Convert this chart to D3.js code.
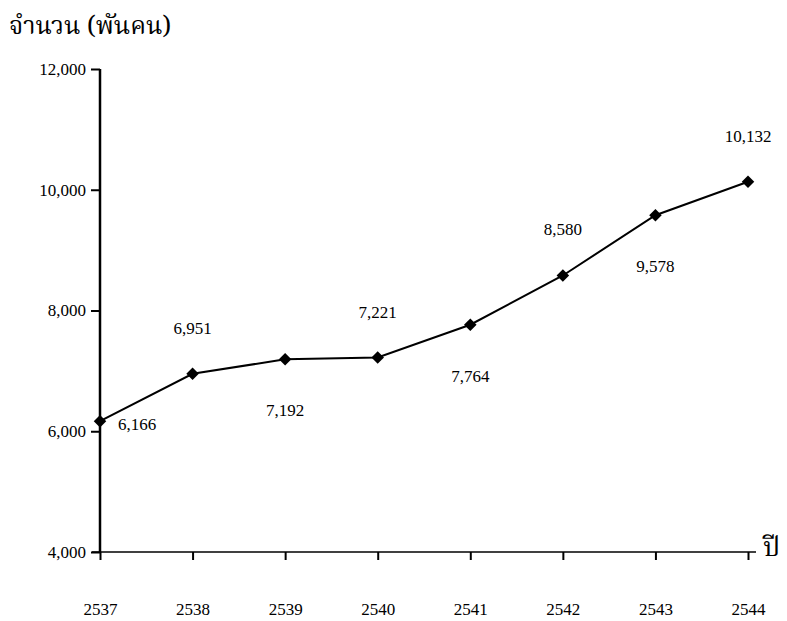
<!DOCTYPE html>
<html><head><meta charset="utf-8">
<script src="https://cdn.jsdelivr.net/npm/d3@7"></script>
<style>
body{margin:0;background:#fff;}
svg text{font-family:"Liberation Serif","Times New Roman",serif;fill:#000;}
</style></head>
<body><svg id="c" width="787" height="621"></svg>
<script>
const years = [2537,2538,2539,2540,2541,2542,2543,2544];
const values = [6166,6951,7192,7221,7764,8580,9578,10132];
const labelPos = ["right","above","below","above","below","above","below","above"];
const yTicks = [4000,6000,8000,10000,12000];

const svg = d3.select("#c");
const x = d3.scalePoint().domain(years).range([100,748]);
const y = d3.scaleLinear().domain([4000,12000]).range([552,69]);
const fmt = d3.format(",");
const serif = "'Liberation Serif','Times New Roman',serif";

// y axis
const ya = svg.append("g").attr("transform","translate(100,0)")
  .call(d3.axisLeft(y).tickValues(yTicks).tickFormat(fmt).tickSize(9).tickPadding(5));
ya.attr("font-family",serif);
ya.select(".domain").attr("stroke","#000").attr("stroke-width",2.5).attr("d","M0,69V552");
ya.selectAll(".tick line").attr("stroke","#000").attr("stroke-width",2);
ya.selectAll(".tick text").style("font-size","17px").style("font-family",serif);

// x axis
const xa = svg.append("g").attr("transform","translate(0,552)")
  .call(d3.axisBottom(x).tickSize(8).tickPadding(43));
xa.attr("font-family",serif);
xa.select(".domain").attr("stroke","#000").attr("stroke-width",1.5).attr("d","M92,0H756");
xa.selectAll(".tick line").attr("stroke","#000").attr("stroke-width",2);
xa.selectAll(".tick text").style("font-size","17px").style("font-family",serif);

// line
const line = d3.line().x((d,i)=>x(years[i])).y(d=>y(d));
svg.append("path").datum(values).attr("d",line)
  .attr("fill","none").attr("stroke","#000").attr("stroke-width",2);

// markers
svg.selectAll(".m").data(values).enter().append("path")
  .attr("d",d3.symbol(d3.symbolDiamond2 || d3.symbolDiamond).size(100))
  .attr("transform",(d,i)=>`translate(${x(years[i])},${y(d)})`)
  .attr("fill","#000");

// labels
svg.selectAll(".lbl").data(values).enter().append("text")
  .attr("x",(d,i)=> labelPos[i]==="right" ? x(years[i])+18 : x(years[i]))
  .attr("y",(d,i)=> y(d) + (labelPos[i]==="above" ? -40 : labelPos[i]==="below" ? 57 : 9))
  .attr("text-anchor",(d,i)=> labelPos[i]==="right" ? "start" : "middle")
  .style("font-size","17px").style("font-family",serif)
  .text(d=>fmt(d));

// titles
const thai = "'Noto Serif Thai','Loma','Garuda','Noto Sans Thai',serif";
svg.append("text").attr("x",9).attr("y",34).style("font-size","25px")
  .style("font-family",thai).style("font-weight","normal")
  .text("จำนวน (พันคน)");
svg.append("text").attr("x",763).attr("y",556).style("font-size","27px")
  .style("font-family",thai).style("font-weight","normal")
  .text("ปี");
</script></body></html>
